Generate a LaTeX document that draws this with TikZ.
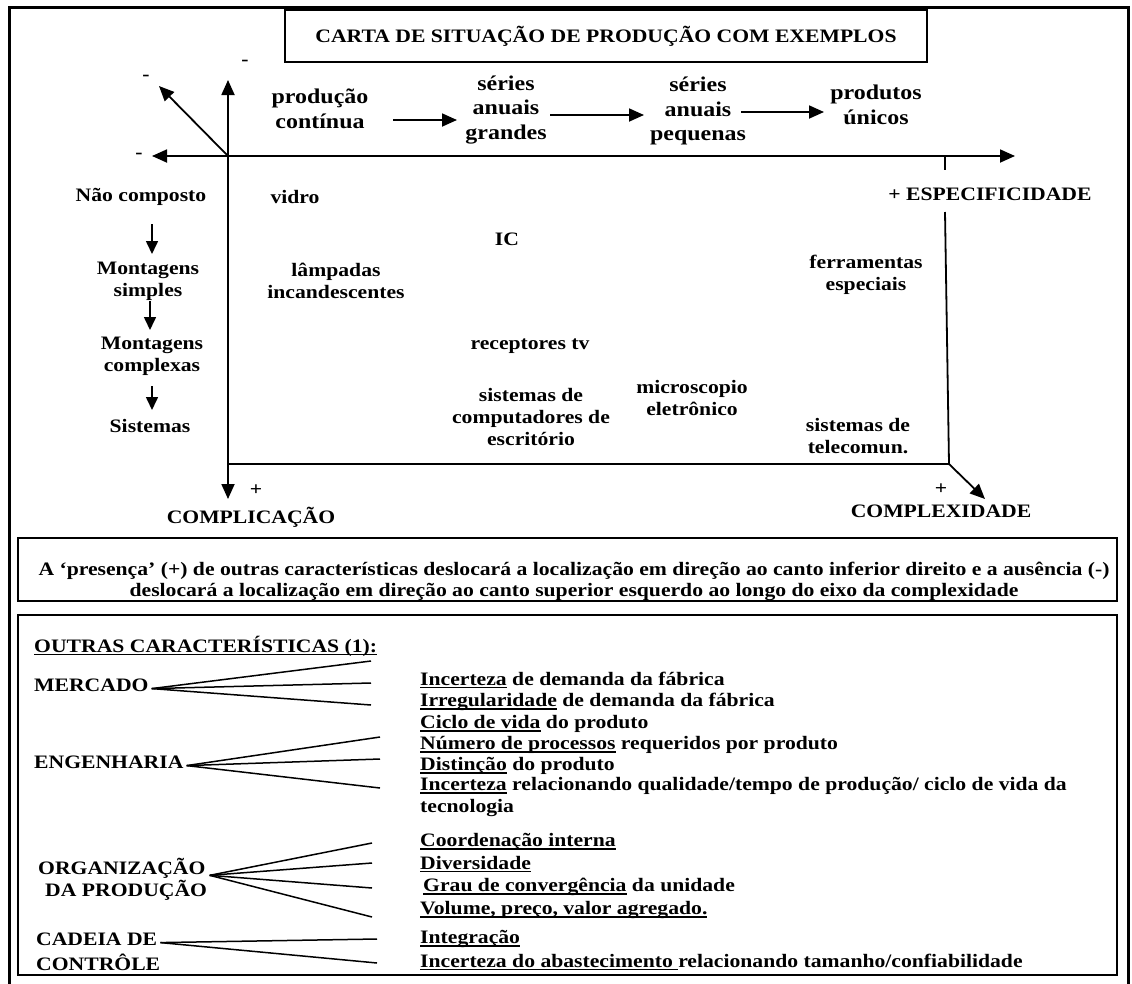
\documentclass[tikz,border=0pt]{standalone}
\usepackage{fontspec}
\setmainfont{Liberation Serif}[FakeStretch=1.14]
\usetikzlibrary{arrows.meta}

\newcommand{\ulin}[1]{\leavevmode\setbox0=\hbox{#1}\rlap{\rule[-3.2pt]{\wd0}{1.4pt}}\box0\relax}

\begin{document}
\begin{tikzpicture}[x=1pt,y=-1pt]

\tikzset{
  lbl/.style   = {font=\fontsize{19}{22}\selectfont\bfseries, inner sep=0pt, align=center},
  big/.style   = {lbl, font=\fontsize{21}{24.5}\selectfont\bfseries},
  item/.style  = {lbl, anchor=west, align=left},
  box/.style   = {draw, line width=1.6pt, inner sep=0pt},
  axis/.style  = {line width=1.8pt, -{Triangle[length=15pt,width=13pt]}},
  flow/.style  = {line width=1.8pt, -{Triangle[length=15pt,width=13pt]}},
  down/.style  = {line width=1.6pt, -{Triangle[length=13pt,width=12pt]}},
  fan/.style   = {line width=1.5pt},
}

\useasboundingbox (0,0) rectangle (1132,983);
\draw[line width=3pt] (9,995) -- (9,7) -- (1128,7) -- (1128,995);

% title
\node[box, lbl, minimum width=642pt, minimum height=52pt] (title) at (606,36) {CARTA DE SITUAÇÃO DE PRODUÇÃO COM EXEMPLOS};

% axes
\coordinate (O) at (228,156);
\coordinate (up) at (228,80);
\coordinate (dn) at (228,499);
\coordinate (lf) at (152,156);
\coordinate (rt) at (1015,156);
\coordinate (dg) at (159,86);
\coordinate (tk) at (945,156);
\coordinate (cA) at (945,212);
\coordinate (cB) at (949,464);
\coordinate (cL) at (228,464);
\coordinate (cx) at (985,499);
\draw[axis] (O) -- (up);
\draw[axis] (O) -- (dn);
\draw[axis] (O) -- (lf);
\draw[axis] (O) -- (rt);
\draw[axis] (O) -- (dg);
\draw[line width=1.8pt] (tk) -- ++(0,14);
\draw[line width=1.8pt] (cA) -- (cB) -- (cL);
\draw[axis] (cB) -- (cx);
\node[lbl] (m1) at (245,63) {-};
\node[lbl] (m2) at (146,78) {-};
\node[lbl] (m3) at (139,156) {-};
\node[lbl] (esp) at (990,194) {+ ESPECIFICIDADE};
\node[lbl] (p1) at (941,489) {+};
\node[lbl] (cpx) at (941,511) {COMPLEXIDADE};
\node[lbl] (p2) at (256,490) {+};
\node[lbl] (cpl) at (251,517) {COMPLICAÇÃO};

% top row
\node[big] (pc) at (320,109) {produção\\contínua};
\node[big] (sg) at (506,110) {séries\\anuais\\grandes};
\node[big] (sp) at (698,111) {séries\\anuais\\pequenas};
\node[big] (pu) at (876,105) {produtos\\únicos};
\coordinate (a1) at (393,120);
\coordinate (a2) at (457,120);
\coordinate (a3) at (550,115);
\coordinate (a4) at (644,115);
\coordinate (a5) at (741,112);
\coordinate (a6) at (824,112);
\draw[flow] (a1) -- (a2);
\draw[flow] (a3) -- (a4);
\draw[flow] (a5) -- (a6);

% left column
\node[lbl] (nc) at (141,197) {Não composto};
\node[lbl] (ms) at (148,281) {Montagens\\simples};
\node[lbl] (mc) at (152,356) {Montagens\\complexas};
\node[lbl] (si) at (150,426) {Sistemas};
\draw[down] (152,224) -- (152,254);
\draw[down] (150,301) -- (150,330);
\draw[down] (152,386) -- (152,410);

% examples
\node[lbl] (vid) at (295,197) {vidro};
\node[lbl] (ic) at (507,239) {IC};
\node[lbl] (lam) at (336,281) {lâmpadas\\incandescentes};
\node[lbl] (rtv) at (530,346) {receptores tv};
\node[lbl] (sce) at (531,417) {sistemas de\\computadores de\\escritório};
\node[lbl] (mic) at (692,398) {microscopio\\eletrônico};
\node[lbl] (fer) at (866,275) {ferramentas\\especiais};
\node[lbl] (tel) at (858,436) {sistemas de\\telecomun.};

% note box
\node[box, minimum width=1099pt, minimum height=63pt] (note) at (567.5,569.5) {};
\begin{scope}
\clip (note.south west) rectangle (note.north east);
\node[lbl, font=\fontsize{19}{21}\selectfont\bfseries] (notetxt) at (574,581) {A ‘presença’ (+) de outras características deslocará a localização em direção ao canto inferior direito e a ausência (-)\\deslocará a localização em direção ao canto superior esquerdo ao longo do eixo da complexidade};
\end{scope}

% other characteristics
\node[box, minimum width=1099pt, minimum height=360pt] (other) at (567.5,795) {};
\node[item] (head) at (34,646) {\ulin{OUTRAS CARACTERÍSTICAS (1):}};
\node[item] (mer) at (34,685) {MERCADO};
\node[item] (eng) at (34,762) {ENGENHARIA};
\node[item] (org1) at (38,868) {ORGANIZAÇÃO};
\node[item] (org2) at (45,890) {DA PRODUÇÃO};
\node[item] (cad1) at (36,939) {CADEIA DE};
\node[item] (cad2) at (36,962) {CONTRÔLE};

\node[item] (r1) at (420,680) {\ulin{Incerteza} de demanda da fábrica};
\node[item] (r2) at (420,702) {\ulin{Irregularidade} de demanda da fábrica};
\node[item] (r3) at (420,724) {\ulin{Ciclo de vida} do produto};
\node[item] (r4) at (420,745) {\ulin{Número de processos} requeridos por produto};
\node[item] (r5) at (420,766) {\ulin{Distinção} do produto};
\node[item] (r6) at (420,797) {\ulin{Incerteza} relacionando qualidade/tempo de produção/ ciclo de vida da\\tecnologia};
\node[item] (r7) at (420,842) {\ulin{Coordenação interna}};
\node[item] (r8) at (420,864) {\ulin{Diversidade}};
\node[item] (r9) at (423,887) {\ulin{Grau de convergência} da unidade};
\node[item] (r10) at (420,910) {\ulin{Volume, preço, valor agregado.}};
\node[item] (r11) at (420,939) {\ulin{Integração}};
\node[item] (r12) at (420,962) {\ulin{Incerteza do abastecimento }relacionando tamanho/confiabilidade};

% fans
\coordinate (fm) at ([xshift=3pt,yshift=3pt]mer.south east);
\coordinate (fe) at ([xshift=3pt,yshift=3pt]eng.south east);
\coordinate (fo) at ([xshift=4pt,yshift=3pt]org1.south east);
\coordinate (fc) at ([xshift=3pt,yshift=3pt]cad1.south east);
\foreach \y [count=\i] in {661,683,705} \coordinate (fm\i) at (371,\y);
\foreach \y [count=\i] in {737,759,788} \coordinate (fe\i) at (380,\y);
\foreach \y [count=\i] in {843,863,888,917} \coordinate (fo\i) at (372,\y);
\foreach \y [count=\i] in {939,963} \coordinate (fc\i) at (377,\y);
\foreach \i in {1,2,3} \draw[fan] (fm) -- (fm\i);
\foreach \i in {1,2,3} \draw[fan] (fe) -- (fe\i);
\foreach \i in {1,...,4} \draw[fan] (fo) -- (fo\i);
\foreach \i in {1,2} \draw[fan] (fc) -- (fc\i);

\end{tikzpicture}
\end{document}
